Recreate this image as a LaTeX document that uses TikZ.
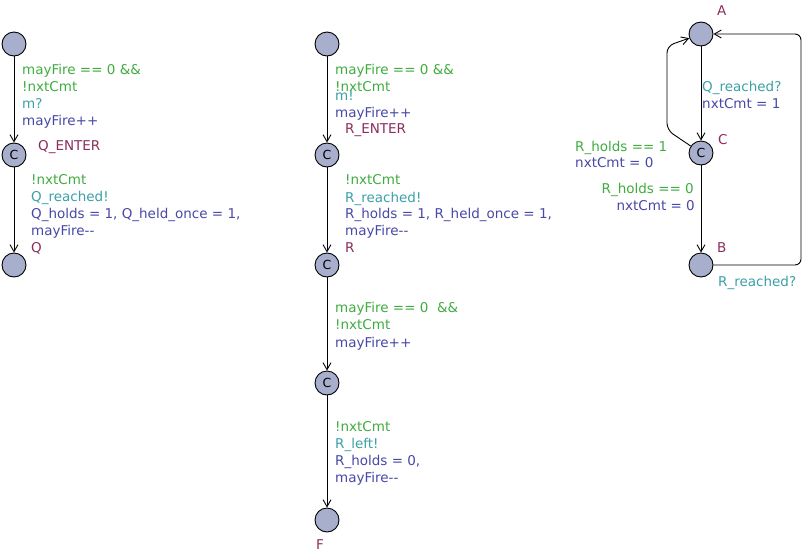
\documentclass[tikz,border=0pt]{standalone}
\usepackage{fontspec}
\setmainfont{DejaVu Sans}
\usepackage{tikz}
\usetikzlibrary{arrows.meta}

\definecolor{guardc}{HTML}{40AC40}
\definecolor{syncc}{HTML}{3CA0A8}
\definecolor{updc}{HTML}{4848A8}
\definecolor{namec}{HTML}{8C2C5C}
\definecolor{locc}{HTML}{A7AFCD}

\tikzset{
	loc/.style={circle, draw, line width=0.9pt, fill=locc, minimum size=24pt, inner sep=0pt, font=\fontsize{12.5}{12.5}\selectfont},
	edge/.style={line width=0.9pt, -{Straight Barb[length=7pt,width=8pt]}},
	lbl/.style={anchor=north west, inner sep=0pt, align=left, font=\fontsize{13.5}{17}\selectfont},
	grd/.style={lbl, text=guardc},
	syn/.style={lbl, text=syncc},
	upd/.style={lbl, text=updc},
	nm/.style={anchor=west, inner sep=0pt, text=namec, font=\fontsize{13.5}{17}\selectfont}
}

\begin{document}
\begin{tikzpicture}[x=1pt, y=-1pt]
		\useasboundingbox (0,0) rectangle (806,555);
		
		% left template
		\node[loc] (q0) at (14,44) {};
		\node[loc] (q1) at (14,155) {C};
		\node[loc] (q2) at (14,265) {};
		\draw[edge] (q0) -- (q1);
		\draw[edge] (q1) -- (q2);
		\node[grd] (g1) at (22,64) {mayFire == 0 \&\&\\!nxtCmt};
		\node[syn] (s1) at (22,98) {m?};
		\node[upd] (u1) at (22,115) {mayFire++};
		\node[nm] (n1) at (38,147) {Q\_ENTER};
		\node[grd] (g2) at (31,174) {!nxtCmt};
		\node[syn] (s2) at (31,191) {Q\_reached!};
		\node[upd] (u2) at (31,208) {Q\_holds = 1, Q\_held\_once = 1,\\mayFire-{}-};
		\node[nm] (n2) at (31,248) {Q};
		
		% middle template
		\node[loc] (r0) at (327,44) {};
		\node[loc] (r1) at (327,155) {C};
		\node[loc] (r2) at (327,265) {C};
		\node[loc] (r3) at (327,383) {C};
		\node[loc] (r4) at (327,520) {};
		\draw[edge] (r0) -- (r1);
		\draw[edge] (r1) -- (r2);
		\draw[edge] (r2) -- (r3);
		\draw[edge] (r3) -- (r4);
		\node[grd] (g3) at (335,64) {mayFire == 0 \&\&\\!nxtCmt};
		\node[syn] (s3) at (335,90) {m!};
		\node[upd] (u3) at (335,107) {mayFire++};
		\node[nm] (n3) at (345,130) {R\_ENTER};
		\node[grd] (g4) at (345,174) {!nxtCmt};
		\node[syn] (s4) at (345,192) {R\_reached!};
		\node[upd] (u4) at (345,208) {R\_holds = 1, R\_held\_once = 1,\\mayFire-{}-};
		\node[nm] (n4) at (345,248) {R};
		\node[grd] (g5) at (335,302) {mayFire == 0 ~\&\&\\!nxtCmt};
		\node[upd] (u5) at (335,337) {mayFire++};
		\node[grd] (g6) at (335,421) {!nxtCmt};
		\node[syn] (s6) at (335,438) {R\_left!};
		\node[upd] (u6) at (335,455) {R\_holds = 0,\\mayFire-{}-};
		\node[nm] (n5) at (316,545) {F};
		
		% right template
		\node[loc] (ca) at (701,34) {};
		\node[loc] (cc) at (701,153) {C};
		\node[loc] (cb) at (701,265) {};
		\node[nm] (na) at (717,11) {A};
		\node[nm] (nc) at (718,140) {C};
		\node[nm] (nb) at (717,248) {B};
		\coordinate (lp1) at (667,130);
		\coordinate (lp2) at (667,46);
		\coordinate (rp1) at (801,265);
		\coordinate (rp2) at (801,34);
		\draw[edge] (ca) -- (cc);
		\draw[edge] (cc) -- (cb);
		\draw[edge, rounded corners=7pt] (cc) -- (lp1) -- (lp2) -- (ca);
		\draw[edge, rounded corners=6pt] (cb) -- (rp1) -- (rp2) -- (ca);
		\node[syn] (s7) at (702,81) {Q\_reached?};
		\node[upd] (u7) at (702,98) {nxtCmt = 1};
		\node[grd] (g8) at (575,141) {R\_holds == 1};
		\node[upd] (u8) at (575,157) {nxtCmt = 0};
		\node[grd, anchor=north east] (g9) at (694,183) {R\_holds == 0};
		\node[upd, anchor=north east] (u9) at (695,200) {nxtCmt = 0};
		\node[syn] (s10) at (718,276) {R\_reached?};
	\end{tikzpicture}
\end{document}
